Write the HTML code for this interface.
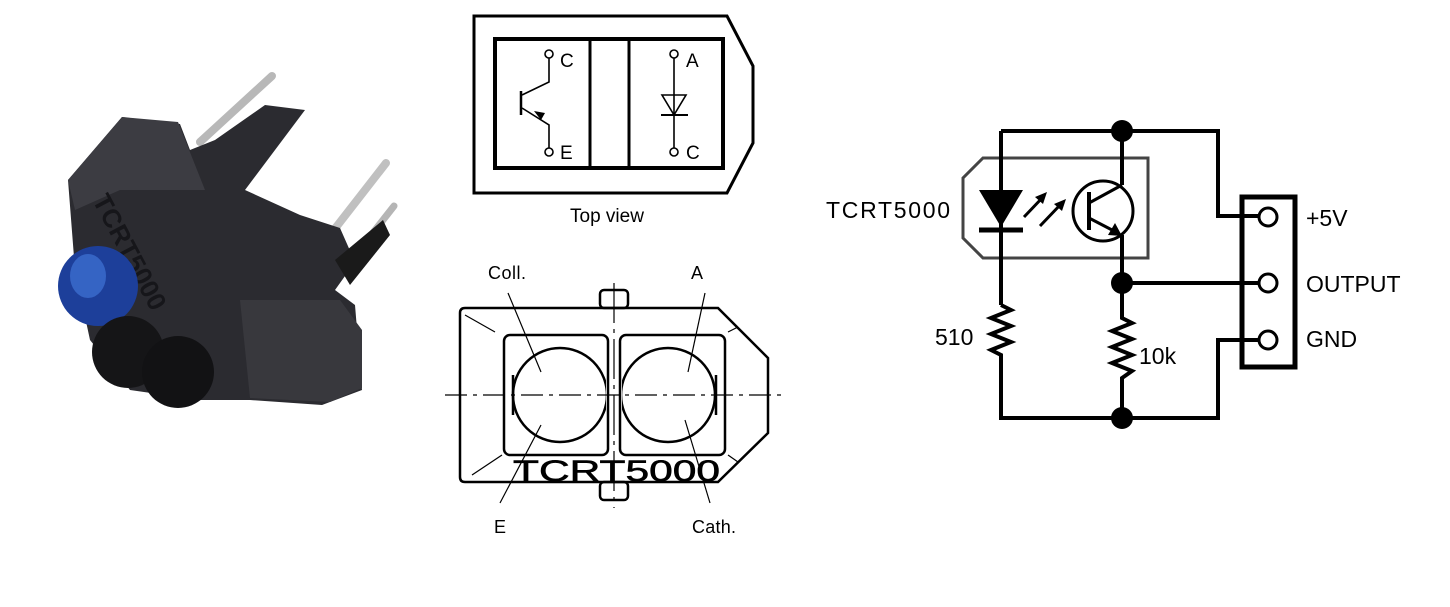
<!DOCTYPE html>
<html><head><meta charset="utf-8"><style>
html,body{margin:0;padding:0;background:#fff;width:1450px;height:607px;overflow:hidden}
svg{display:block}
text{font-family:"Liberation Sans",sans-serif}
</style></head><body>
<svg width="1450" height="607" viewBox="0 0 1450 607" xmlns="http://www.w3.org/2000/svg">
<defs>
<clipPath id="cl"><rect x="511" y="340" width="95" height="110"/></clipPath>
<clipPath id="cr"><rect x="622" y="340" width="95" height="110"/></clipPath>
</defs>
<!-- Photo -->
<g>
<line x1="200" y1="142" x2="272" y2="76" stroke="#b8b8b8" stroke-width="8" stroke-linecap="round"/>
<line x1="330" y1="235" x2="386" y2="163" stroke="#c0c0c0" stroke-width="8" stroke-linecap="round"/>
<line x1="350" y1="262" x2="394" y2="206" stroke="#b5b5b5" stroke-width="7" stroke-linecap="round"/>
<polygon points="68,180 122,117 180,124 190,150 215,140 265,105 305,110 245,190 300,215 340,228 355,262 335,290 355,305 362,390 322,405 250,400 200,400 130,390 90,340 75,270" fill="#2b2b30"/>
<polygon points="68,180 122,117 178,122 205,190 120,190 75,210" fill="#3c3c42"/>
<polygon points="240,300 340,300 362,330 362,388 330,402 250,398" fill="#38383d"/>
<polygon points="335,260 383,220 390,235 350,285" fill="#1a1a1a"/>
<text x="0" y="0" transform="translate(92,200) rotate(62)" font-size="26" fill="#16161a" font-weight="bold">TCRT5000</text>
<circle cx="98" cy="286" r="40" fill="#1d3f9a"/>
<ellipse cx="88" cy="276" rx="18" ry="22" fill="#3564c4"/>
<circle cx="128" cy="352" r="36" fill="#151517"/>
<circle cx="178" cy="372" r="36" fill="#121214"/>
</g>
<!-- Top view -->
<g fill="none" stroke="#000" stroke-width="3">
<polygon points="474,16 727,16 753,66 753,143 727,193 474,193"/>
<rect x="495" y="39" width="228" height="129" stroke-width="4"/>
<line x1="590" y1="39" x2="590" y2="168"/>
<line x1="629" y1="39" x2="629" y2="168"/>
</g>
<g fill="none" stroke="#000" stroke-width="1.6">
<circle cx="549" cy="54" r="4"/><circle cx="549" cy="152" r="4"/>
<polyline points="549,58 549,82 522,95"/>
<polyline points="522,108 549,125 549,148"/>
<line x1="521" y1="91" x2="521" y2="115" stroke-width="2.5"/>
<circle cx="674" cy="54" r="4"/><circle cx="674" cy="152" r="4"/>
<line x1="674" y1="58" x2="674" y2="148"/>
<polygon points="662,95 686,95 674,115"/>
<line x1="661" y1="115" x2="688" y2="115" stroke-width="2"/>
</g>
<polygon points="541,120 534,111 545,113" fill="#000"/>
<g font-size="19" fill="#000">
<text x="560" y="67">C</text><text x="560" y="159">E</text>
<text x="686" y="67">A</text><text x="686" y="159">C</text>
</g>
<text x="570" y="222" font-size="19">Top view</text>
<!-- Bottom drawing -->
<g fill="none" stroke="#000" stroke-width="2.5">
<path d="M465,308 L718,308 L768,358 L768,433 L718,482 L465,482 Q460,482 460,477 L460,313 Q460,308 465,308Z"/>
<rect x="600" y="290" width="28" height="18" rx="4"/>
<rect x="600" y="482" width="28" height="18" rx="4"/>
<rect x="504" y="335" width="104" height="120" rx="6"/>
<rect x="620" y="335" width="105" height="120" rx="6"/>
<circle cx="560" cy="395" r="47" clip-path="url(#cl)"/>
<circle cx="668" cy="395" r="47" clip-path="url(#cr)"/>
<line x1="513" y1="375" x2="513" y2="415"/>
<line x1="716" y1="375" x2="716" y2="415"/>
</g>
<g stroke="#000" stroke-width="1.2" fill="none">
<line x1="445" y1="395" x2="782" y2="395" stroke-dasharray="22,6,4,6"/>
<line x1="614" y1="283" x2="614" y2="508" stroke-dasharray="40,6,4,6"/>
<line x1="508" y1="293" x2="541" y2="372"/><line x1="705" y1="293" x2="688" y2="372"/>
<line x1="500" y1="503" x2="541" y2="425"/><line x1="710" y1="503" x2="685" y2="420"/>
<line x1="465" y1="315" x2="495" y2="332"/><line x1="472" y1="475" x2="502" y2="455"/>
<line x1="728" y1="332" x2="738" y2="327"/><line x1="728" y1="455" x2="738" y2="462"/>
</g>
<text x="513" y="481" font-size="30" fill="#000" textLength="207" lengthAdjust="spacingAndGlyphs" stroke="#000" stroke-width="0.6">TCRT5000</text>
<g font-size="18" fill="#000">
<text x="488" y="279" textLength="38">Coll.</text>
<text x="691" y="279">A</text>
<text x="494" y="533">E</text>
<text x="692" y="533" textLength="44">Cath.</text>
</g>
<!-- Schematic -->
<path d="M983,158 L1148,158 L1148,258 L983,258 L963,238 L963,178 Z" fill="none" stroke="#444" stroke-width="3"/>
<g fill="none" stroke="#000" stroke-width="4">
<polyline points="1001,131 1218,131 1218,216 1258,216"/>
<line x1="1001" y1="131" x2="1001" y2="305"/>
<polyline points="1001,305 1011,310 991,318 1011,326 991,334 1011,342 991,350 1001,355 1001,418 1218,418 1218,340 1258,340"/>
<polyline points="1122,131 1122,185"/>
<polyline points="1122,235 1122,318 1132,323 1112,331 1132,339 1112,347 1132,355 1112,363 1132,371 1122,378 1122,418"/>
<line x1="1122" y1="283" x2="1258" y2="283"/>
<rect x="1242" y="197" width="53" height="170" stroke-width="5"/>
</g>
<g fill="#fff" stroke="#000" stroke-width="3">
<circle cx="1268" cy="217" r="9"/><circle cx="1268" cy="283" r="9"/><circle cx="1268" cy="340" r="9"/>
</g>
<polygon points="979,190 1023,190 1001,227" fill="#000"/>
<line x1="979" y1="230" x2="1023" y2="230" stroke="#000" stroke-width="5"/>
<g stroke="#000" stroke-width="3">
<line x1="1024" y1="217" x2="1044" y2="196"/><line x1="1040" y1="226" x2="1062" y2="203"/>
</g>
<polygon points="1047,192 1035,197 1043,204" fill="#000"/>
<polygon points="1066,199 1054,204 1062,211" fill="#000"/>
<circle cx="1103" cy="211" r="30" fill="none" stroke="#000" stroke-width="3"/>
<line x1="1089" y1="192" x2="1089" y2="230" stroke="#000" stroke-width="4"/>
<g stroke="#000" stroke-width="3"><line x1="1089" y1="203" x2="1122" y2="185"/><line x1="1089" y1="218" x2="1114" y2="231"/></g>
<polygon points="1122,236 1108,235 1115,223" fill="#000"/>
<g fill="#000"><circle cx="1122" cy="131" r="11"/><circle cx="1122" cy="283" r="11"/><circle cx="1122" cy="418" r="11"/></g>
<g font-size="23" fill="#000">
<text x="826" y="218" textLength="124">TCRT5000</text>
<text x="935" y="345">510</text>
<text x="1139" y="364">10k</text>
<text x="1306" y="226">+5V</text>
<text x="1306" y="292">OUTPUT</text>
<text x="1306" y="347">GND</text>
</g>
</svg>
</body></html>
